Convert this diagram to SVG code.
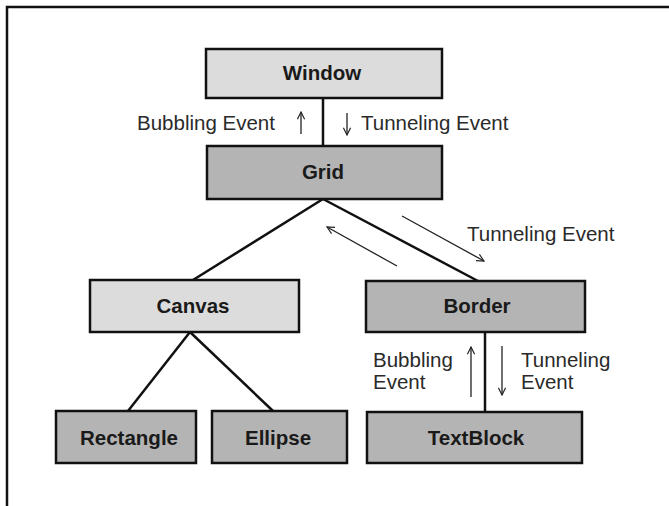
<svg xmlns="http://www.w3.org/2000/svg" width="669" height="506" viewBox="0 0 669 506">
  <style>
    .box rect { stroke: #111; stroke-width: 2.5; }
    .light rect { fill: #dcdcdc; }
    .dark rect { fill: #b4b4b4; }
    .box text { font-family: "Liberation Sans", Arial, sans-serif; font-weight: bold; font-size: 20.5px; fill: #1a1a1a; text-anchor: middle; }
    .lbl { font-family: "Liberation Sans", Arial, sans-serif; font-size: 20.5px; fill: #2a2a2a; }
    .edge { stroke: #111; stroke-width: 2.5; fill: none; }
    .flow { stroke: #222; stroke-width: 1.3; fill: none; marker-end: url(#head); }
  </style>
  <defs>
    <marker id="head" viewBox="0 0 10 10" refX="9" refY="5" markerWidth="9" markerHeight="9" markerUnits="userSpaceOnUse" orient="auto">
      <path d="M1,1 L9,5 L1,9" fill="none" stroke="#222" stroke-width="1.3"/>
    </marker>
  </defs>

  <rect width="669" height="506" fill="#fff"/>
  <!-- page frame -->
  <path d="M7,506 V7 H669" fill="none" stroke="#111" stroke-width="2.5"/>

  <g id="connectors">
    <line class="edge" x1="323" y1="98" x2="323" y2="146"/>
    <line class="edge" x1="323" y1="199" x2="193" y2="280"/>
    <line class="edge" x1="323" y1="199" x2="478" y2="281"/>
    <line class="edge" x1="190" y1="332" x2="128" y2="411"/>
    <line class="edge" x1="190" y1="332" x2="273" y2="411"/>
    <line class="edge" x1="485" y1="332" x2="485" y2="412"/>
  </g>

  <g id="event-arrows">
    <line class="flow" x1="301" y1="134" x2="301" y2="112"/>
    <line class="flow" x1="347" y1="113" x2="347" y2="135"/>
    <line class="flow" x1="402" y1="216" x2="484" y2="261"/>
    <line class="flow" x1="397" y1="266" x2="327" y2="227"/>
    <line class="flow" x1="471" y1="397" x2="471" y2="347"/>
    <line class="flow" x1="502" y1="346" x2="502" y2="395"/>
  </g>

  <g id="event-labels">
    <text class="lbl" x="137" y="130">Bubbling Event</text>
    <text class="lbl" x="361" y="130">Tunneling Event</text>
    <text class="lbl" x="467" y="241">Tunneling Event</text>
    <text class="lbl" x="373" y="367">Bubbling</text>
    <text class="lbl" x="373" y="389">Event</text>
    <text class="lbl" x="521" y="367">Tunneling</text>
    <text class="lbl" x="521" y="389">Event</text>
  </g>

  <g id="window" class="box light">
    <rect x="206" y="49" width="236" height="49"/>
    <text x="322" y="80">Window</text>
  </g>
  <g id="grid" class="box dark">
    <rect x="207" y="146" width="235" height="53"/>
    <text x="323" y="179">Grid</text>
  </g>
  <g id="canvas" class="box light">
    <rect x="90" y="280" width="209" height="52"/>
    <text x="193" y="313">Canvas</text>
  </g>
  <g id="border" class="box dark">
    <rect x="366" y="281" width="219" height="51"/>
    <text x="477" y="313">Border</text>
  </g>
  <g id="rectangle" class="box dark">
    <rect x="56" y="411" width="140" height="52"/>
    <text x="129" y="445">Rectangle</text>
  </g>
  <g id="ellipse" class="box dark">
    <rect x="212" y="411" width="135" height="52"/>
    <text x="278" y="445">Ellipse</text>
  </g>
  <g id="textblock" class="box dark">
    <rect x="367" y="412" width="215" height="51"/>
    <text x="476" y="445">TextBlock</text>
  </g>
</svg>
